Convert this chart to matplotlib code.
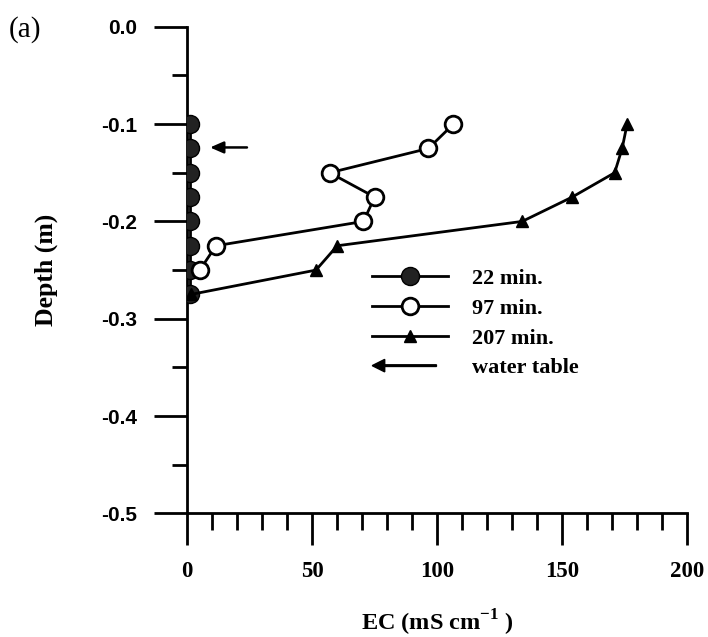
import matplotlib
matplotlib.use("Agg")
import matplotlib.pyplot as plt
import matplotlib.patches as mpatches
from matplotlib.legend_handler import HandlerPatch

plt.rcParams['font.family'] = ['Liberation Serif', 'DejaVu Serif']
plt.rcParams['mathtext.fontset'] = 'custom'
plt.rcParams['mathtext.rm'] = 'Liberation Serif'
plt.rcParams['mathtext.bf'] = 'Liberation Serif:bold'

# depth (m) of the readings
depth = [-0.1, -0.125, -0.15, -0.175, -0.2, -0.225, -0.25, -0.275]

# EC (mS/cm) at each time
ec_22 = [1, 1, 1, 1, 1, 1, 1, 1]
ec_97 = [106.5, 96.5, 57, 75, 70.5, 11.5, 5]
ec_207 = [176, 174, 171, 154, 134, 60, 51.5, 1.5]

# water table arrow
wt_depth = -0.124
wt_from = 25
wt_to = 8


class HandlerArrow(HandlerPatch):
    def create_artists(self, legend, orig_handle, xdescent, ydescent, width, height, fontsize, trans):
        p = mpatches.FancyArrow(width * 0.85, height / 2, -width * 0.85, 0, width=1.2,
                                head_width=9, head_length=9, length_includes_head=True,
                                color='k')
        p.set_transform(trans)
        return [p]


fig = plt.figure(figsize=(7.08, 6.37), dpi=100)
ax = fig.add_axes([0.2645, 0.194, 0.706, 0.764])

lw = 2.0
ax.plot(ec_22, depth, '-o', color='k', lw=lw, ms=13, mfc='#222222', mec='k', label='22 min.', zorder=3)
ax.plot(ec_97, depth[:len(ec_97)], '-o', color='k', lw=lw, ms=12, mfc='white', mec='k', mew=2, label='97 min.', zorder=4)
ax.plot(ec_207, depth, '-^', color='k', lw=lw, ms=9, mfc='k', mec='k', label='207 min.', zorder=4)

ax.annotate('', xy=(wt_to, wt_depth), xytext=(wt_from, wt_depth),
            arrowprops=dict(arrowstyle='-|>,head_length=0.8,head_width=0.35', color='k', lw=1.8))

ax.set_xlim(0, 200)
ax.set_ylim(-0.5, 0.0)
ax.spines['top'].set_visible(False)
ax.spines['right'].set_visible(False)
ax.spines['left'].set_linewidth(2)
ax.spines['bottom'].set_linewidth(2)

ax.set_xticks([0, 50, 100, 150, 200])
ax.set_xticks(range(0, 201, 10), minor=True)
ax.set_yticks([0.0, -0.1, -0.2, -0.3, -0.4, -0.5])
ax.set_yticks([-0.05, -0.15, -0.25, -0.35, -0.45], minor=True)
ax.set_yticklabels(['0.0', '-0.1', '-0.2', '-0.3', '-0.4', '-0.5'])

ax.tick_params(axis='x', which='major', direction='out', length=23, width=2, pad=11)
ax.tick_params(axis='x', which='minor', direction='out', length=12, width=2)
ax.tick_params(axis='y', which='major', direction='out', length=24, width=2, pad=12)
ax.tick_params(axis='y', which='minor', direction='out', length=11, width=2)
for lab in ax.get_xticklabels():
    lab.set_fontweight('bold')
    lab.set_fontsize(16.5)
for lab in ax.get_yticklabels():
    lab.set_fontweight('bold')
    lab.set_fontsize(15)
    lab.set_family(['Liberation Sans', 'DejaVu Sans'])

ax.set_xlabel(r'EC (mS cm$^{\mathbf{-1}}$ )', fontsize=17.5, fontweight='bold', labelpad=19)
ax.set_ylabel('Depth (m)', fontsize=18.5, fontweight='bold', labelpad=31)

fig.text(0.012, 0.953, '(a)', fontsize=21, va='center', ha='left')

handles, labels = ax.get_legend_handles_labels()
arrow = mpatches.FancyArrow(0, 0, 1, 0)
handles.append(arrow)
labels.append('water table')
leg = ax.legend(handles, labels, loc='upper left', bbox_to_anchor=(0.33, 0.545), frameon=False,
                handlelength=3.4, handletextpad=1.1, labelspacing=0.42,
                prop={'weight': 'bold', 'size': 16},
                handler_map={mpatches.FancyArrow: HandlerArrow()})

fig.savefig('out.png', dpi=100)
